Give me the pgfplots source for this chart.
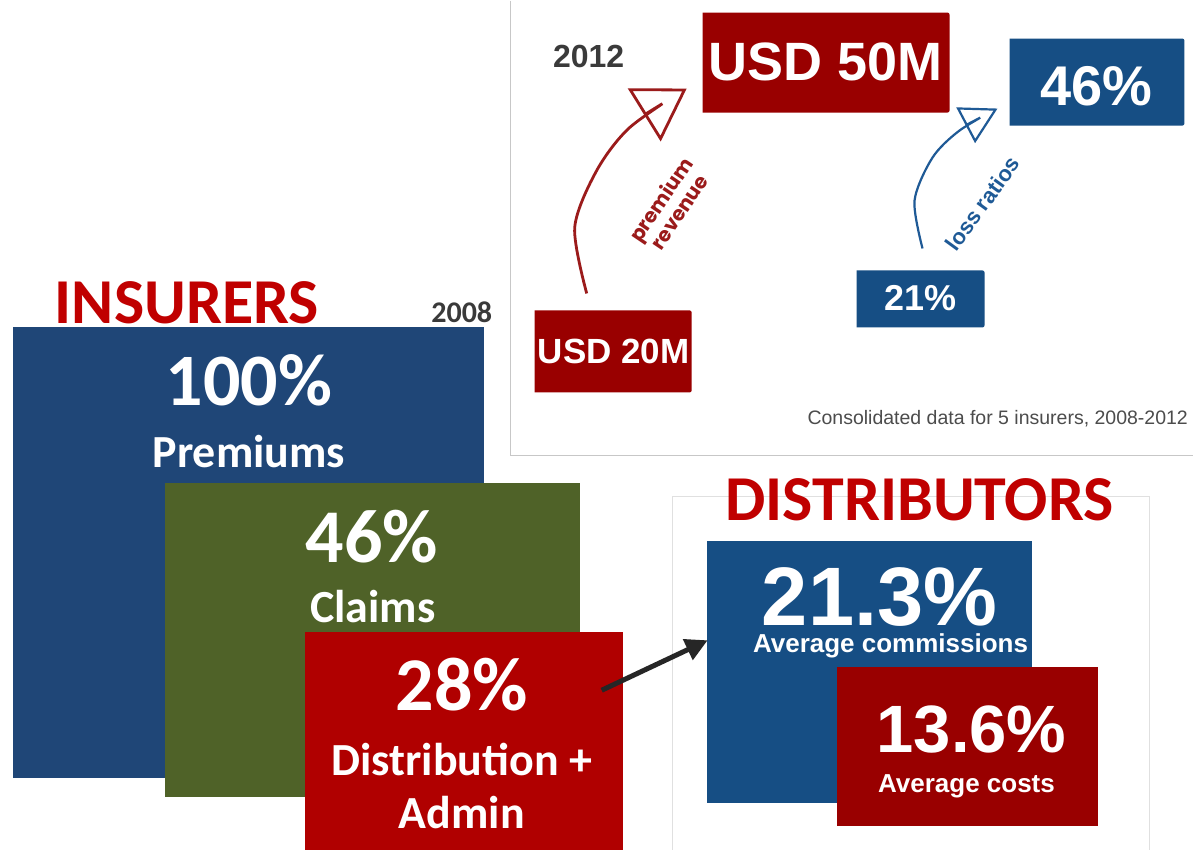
\documentclass[border=0pt]{standalone}
\usepackage{pgfplots}
\pgfplotsset{compat=1.18}
\usepackage{fontspec}
\setmainfont{Carlito}
\newfontfamily\arialfont{Liberation Sans}
\newfontfamily\popfont{Poppins}
\usetikzlibrary{arrows.meta}
\definecolor{insblue}{HTML}{1F4677}
\definecolor{insgreen}{HTML}{4F6228}
\definecolor{insred}{HTML}{B00000}
\definecolor{dkred}{HTML}{990000}
\definecolor{dkblue}{HTML}{164E84}
\definecolor{titred}{HTML}{C00000}
\definecolor{greytxt}{HTML}{3A3A3A}
\definecolor{arrred}{HTML}{9B1B1B}
\definecolor{arrblue}{HTML}{1F5A96}
\newcommand{\fs}[1]{\fontsize{#1}{#1}\selectfont}
\begin{document}
\begin{tikzpicture}
\begin{axis}[
  scale only axis, width=1194pt, height=850pt,
  xmin=0, xmax=1194, ymin=0, ymax=850, y dir=reverse,
  hide axis, clip=false,
  every node/.style={inner sep=0pt, outer sep=0pt},
]
% background
\addplot[fill=white, draw=none] coordinates {(0,0) (1194,0) (1194,850) (0,850)};
% top-right panel borders
\addplot[draw=black!22, line width=1.2pt] coordinates {(511,0) (511,455) (1194,455)};
% distributors panel
\addplot[draw=black!12, line width=0.8pt] coordinates {(673,850) (673,496) (1150,496) (1150,850)};
% insurers boxes
\addplot[fill=insblue, draw=none] coordinates {(13,327) (484,327) (484,778) (13,778)};
\addplot[fill=insgreen, draw=none] coordinates {(165,483) (580,483) (580,797) (165,797)};
\addplot[fill=insred, draw=none] coordinates {(305,632) (623,632) (623,850) (305,850)};
% distributors boxes
\addplot[fill=dkblue, draw=none] coordinates {(707,541) (1033,541) (1033,803) (707,803)};
\addplot[fill=dkred, draw=none] coordinates {(837,667) (1099,667) (1099,826) (837,826)};
% top-right boxes
\addplot[fill=dkred, draw=none, rounded corners=2pt] coordinates {(703,12) (950,12) (950,112) (703,112)};
\addplot[fill=dkblue, draw=none, rounded corners=2pt] coordinates {(1010,38) (1185,38) (1185,125) (1010,125)};
\addplot[fill=dkred, draw=none, rounded corners=2pt] coordinates {(535,310) (692,310) (692,392) (535,392)};
\addplot[fill=dkblue, draw=none, rounded corners=2pt] coordinates {(857,270) (985,270) (985,327) (857,327)};
% arrows
\addplot[draw=arrred, line width=2.8pt, smooth, -{Triangle[open, length=50pt, width=62pt, line width=2.8pt]}] coordinates {(587,293) (575,227) (597,170) (630,127) (687,88)};
\addplot[draw=arrblue, line width=2.2pt, smooth, -{Triangle[open, length=36pt, width=40pt, line width=2.2pt]}] coordinates {(923,248) (915,200) (933,157) (960,130) (998,108)};
\addplot[draw=black!85, line width=5pt, -{Triangle[length=22pt, width=22pt]}] coordinates {(602,690) (708,640)};
% insurers text
\node[anchor=base, text=titred, font=\bfseries\fs{64}] at (187,323) {INSURERS};
\node[anchor=base, text=greytxt, font=\bfseries\fs{30}] at (462,322) {2008};
\node[anchor=base, text=white, font=\bfseries\fs{74}] at (249,405) {100\%};
\node[anchor=base, text=white, font=\bfseries\fs{46}] at (249,467) {Premiums};
\node[anchor=base, text=white, font=\bfseries\fs{76}] at (372,562) {46\%};
\node[anchor=base, text=white, font=\bfseries\fs{46}] at (373,622) {Claims};
\node[anchor=base, text=white, font=\bfseries\fs{76}] at (462,710) {28\%};
\node[anchor=base, text=white, font=\bfseries\fs{46}] at (462,775) {Distribution +};
\node[anchor=base, text=white, font=\bfseries\fs{46}] at (462,828) {Admin};
% distributors text
\node[anchor=base, text=titred, font=\bfseries\fs{64}] at (920,520) {DISTRIBUTORS};
\node[anchor=base, text=white, font=\arialfont\bfseries\fs{83}] at (880,625) {21.3\%};
\node[anchor=base, text=white, font=\arialfont\bfseries\fs{26}] at (891,652) {Average commissions};
\node[anchor=base, text=white, font=\arialfont\bfseries\fs{67}] at (972,752) {13.6\%};
\node[anchor=base, text=white, font=\arialfont\bfseries\fs{26}] at (967,792) {Average costs};
% top-right text
\node[anchor=base, text=white, font=\arialfont\bfseries\fs{54}] at (826,80) {USD 50M};
\node[anchor=base, text=greytxt, font=\arialfont\bfseries\fs{32}] at (589,67) {2012};
\node[anchor=base, text=white, font=\arialfont\bfseries\fs{56}] at (1097,105) {46\%};
\node[anchor=base, text=white, font=\arialfont\bfseries\fs{35}] at (614,363) {USD 20M};
\node[anchor=base, text=white, font=\arialfont\bfseries\fs{36}] at (921,310) {21\%};
\node[anchor=base east, text=black!70, font=\arialfont\fs{19.5}] at (1192,424) {Consolidated data for 5 insurers, 2008-2012};
\node[rotate=56, text=arrred, font=\popfont\bfseries\fs{20}, align=center] at (670,205) {premium\\[2pt]revenue};
\node[rotate=54, text=arrblue, font=\arialfont\bfseries\fs{22}] at (983,203) {loss ratios};
\end{axis}
\end{tikzpicture}
\end{document}
